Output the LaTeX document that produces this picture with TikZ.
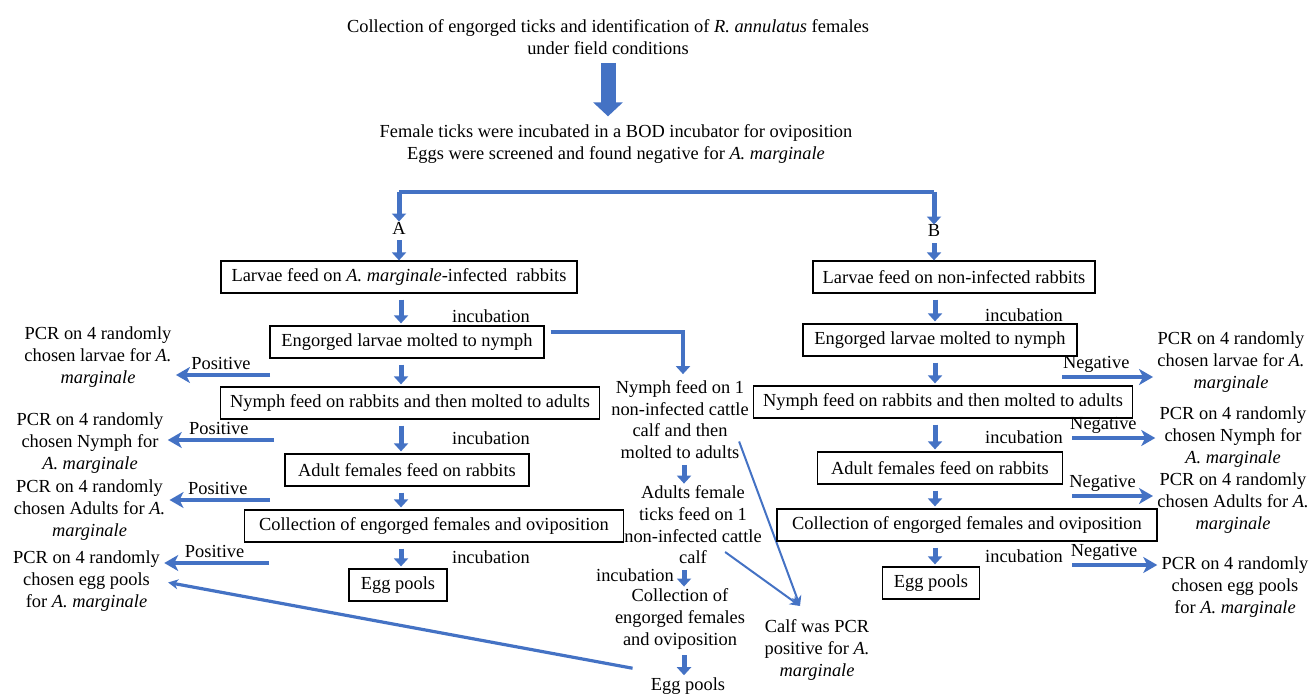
\documentclass[tikz,border=0pt]{standalone}
\usepackage{fontspec}
\setmainfont{Liberation Serif}
\usetikzlibrary{arrows.meta,positioning}
\definecolor{flowblue}{RGB}{68,114,196}

\begin{document}
\begin{tikzpicture}[x=0.5pt,y=-0.5pt]
\tikzset{
  plaintext/.style={inner sep=0pt,align=center,font=\fontsize{9.2}{10.8}\selectfont},
  stepbox/.style={draw,line width=0.6pt,minimum height=16pt,inner sep=0pt,font=\fontsize{9.2}{10.8}\selectfont},
  edgelabel/.style={inner sep=1.5pt,font=\fontsize{9.2}{10.8}\selectfont,text=black},
  bigarrow/.style={flowblue,line width=7.5pt,-{Triangle[width=14.5pt,length=7pt]},shorten <=4pt,shorten >=4pt},
  downarrow/.style={flowblue,line width=2.5pt,-{Triangle[width=7pt,length=4pt]}},
  stepdown/.style={downarrow,shorten <=3pt,shorten >=1pt},
  sidearrow/.style={flowblue,line width=2pt,-{Stealth[width=8pt,length=7pt,inset=2pt]},shorten >=2pt},
  thinarrow/.style={flowblue,line width=1pt,-{Stealth[width=5pt,length=5pt,inset=1.5pt]}},
  bracket/.style={flowblue,line width=2pt}
}
\useasboundingbox (0,0) rectangle (1309,695);

% top
\node[plaintext] (n_title) at (608,37) {Collection of engorged ticks and identification of \textit{R. annulatus} females\\under field conditions};
\node[plaintext] (n_eggs) at (616,144) {Female ticks were incubated in a BOD incubator for oviposition\\Eggs were screened and found negative for \textit{A. marginale}};
\draw[bigarrow] (n_title.south) -- (n_title.south |- n_eggs.north);

% split into A and B
\coordinate (c_splitl) at (399,192);
\coordinate (c_splitr) at (934,192);
\node[plaintext] (n_A) at (399,228) {A};
\node[plaintext] (n_B) at (934,231) {B};
\draw[bracket] (c_splitl) -- (c_splitr);
\draw[downarrow] (c_splitl) -- (n_A);
\draw[downarrow] (c_splitr) -- (n_B);

% column A
\coordinate (c_colA) at (401,0);
\node[stepbox,minimum width=178pt] (n_a1) at (399,277) {Larvae feed on \textit{A. marginale}-infected\ \ rabbits};
\node[stepbox,minimum width=137pt] (n_a2) at (407,342) {Engorged larvae molted to nymph};
\node[stepbox,minimum width=189.5pt] (n_a3) at (410,403) {Nymph feed on rabbits and then molted to adults};
\node[stepbox,minimum width=122pt] (n_a4) at (407,470) {Adult females feed on rabbits};
\node[stepbox,minimum width=189.5pt] (n_a5) at (434,526) {Collection of engorged females and oviposition};
\node[stepbox,minimum width=49pt] (n_a6) at (398,585) {Egg pools};
\draw[downarrow,shorten <=3pt] (n_A) -- (n_a1);
\draw[stepdown] (n_a1.south -| c_colA) -- (n_a2.north -| c_colA);
\draw[stepdown] (n_a2.south -| c_colA) -- (n_a3.north -| c_colA);
\draw[stepdown] (n_a3.south -| c_colA) -- (n_a4.north -| c_colA);
\draw[stepdown] (n_a4.south -| c_colA) -- (n_a5.north -| c_colA);
\draw[stepdown] (n_a5.south -| c_colA) -- (n_a6.north -| c_colA);
\node[plaintext] (n_inca1) at (491,316) {incubation};
\node[plaintext] (n_inca2) at (491,438) {incubation};
\node[plaintext] (n_inca3) at (491,557) {incubation};

% PCR on the left
\node[plaintext] (n_l1) at (98,357) {PCR on 4 randomly\\chosen larvae for \textit{A.}\\\textit{marginale}};
\node[plaintext] (n_l2) at (90,443) {PCR on 4 randomly\\chosen Nymph for\\\textit{A. marginale}};
\node[plaintext] (n_l3) at (89.5,510) {PCR on 4 randomly\\chosen Adults for \textit{A.}\\\textit{marginale}};
\node[plaintext] (n_l4) at (86.5,581) {PCR on 4 randomly\\chosen egg pools\\for \textit{A. marginale}};
\coordinate (c_pos1) at (270,375);
\coordinate (c_pos2) at (274,440);
\coordinate (c_pos3) at (270,500);
\coordinate (c_pos4) at (269,563);
\draw[sidearrow] (c_pos1) -- node[edgelabel,above] {Positive} (n_l1.east |- c_pos1);
\draw[sidearrow] (c_pos2) -- node[edgelabel,above] {Positive} (n_l2.east |- c_pos2);
\draw[sidearrow] (c_pos3) -- node[edgelabel,above] {Positive} (n_l3.east |- c_pos3);
\draw[sidearrow] (c_pos4) -- node[edgelabel,above] {Positive} (n_l4.east |- c_pos4);

% middle branch on cattle
\coordinate (c_colM) at (684,0);
\coordinate (c_elbow) at (683,332);
\node[plaintext] (n_m1) at (680,419.5) {Nymph feed on 1\\non-infected cattle\\calf and then\\molted to adults};
\node[plaintext] (n_m2) at (693,525) {Adults female\\ticks feed on 1\\non-infected cattle\\calf};
\node[plaintext] (n_m3) at (680,619) {Collection of\\engorged females\\and oviposition};
\node[plaintext] (n_m4) at (688,686) {Egg pools};
\node[plaintext] (n_incm) at (635,575) {incubation};
\node[plaintext] (n_calf) at (817,650) {Calf was PCR\\positive for \textit{A.}\\\textit{marginale}};
\coordinate (c_calfin) at (800,606);
\draw[downarrow,line width=2pt,shorten <=3pt,shorten >=3pt] (n_a2.east |- c_elbow) -- (c_elbow) -- (n_m1.north -| c_elbow);
\draw[stepdown] (n_m1.south -| c_colM) -- (n_m2.north -| c_colM);
\draw[stepdown] (n_m2.south -| c_colM) -- (n_m3.north -| c_colM);
\draw[stepdown] (n_m3.south -| c_colM) -- (n_m4.north -| c_colM);
\draw[thinarrow] ([shift={(-10,22)}]n_m1.east) -- (c_calfin);
\draw[thinarrow] ([shift={(-37,27)}]n_m2.east) -- (c_calfin);
\draw[thinarrow,line width=1.6pt,shorten >=4pt] ([shift={(-18,-9)}]n_m4.north west) -- (n_l4.east);

% column B
\coordinate (c_colB) at (935,0);
\node[stepbox,minimum width=141pt] (n_b1) at (954,277) {Larvae feed on non-infected rabbits};
\node[stepbox,minimum width=137pt] (n_b2) at (940,340) {Engorged larvae molted to nymph};
\node[stepbox,minimum width=189.5pt] (n_b3) at (943,402) {Nymph feed on rabbits and then molted to adults};
\node[stepbox,minimum width=122.5pt] (n_b4) at (940,468) {Adult females feed on rabbits};
\node[stepbox,minimum width=190pt] (n_b5) at (967,525) {Collection of engorged females and oviposition};
\node[stepbox,minimum width=48.5pt] (n_b6) at (931,583) {Egg pools};
\draw[downarrow,shorten <=3pt] (n_B) -- (n_b1.north -| n_B);
\draw[stepdown] (n_b1.south -| c_colB) -- (n_b2.north -| c_colB);
\draw[stepdown] (n_b2.south -| c_colB) -- (n_b3.north -| c_colB);
\draw[stepdown] (n_b3.south -| c_colB) -- (n_b4.north -| c_colB);
\draw[stepdown] (n_b4.south -| c_colB) -- (n_b5.north -| c_colB);
\draw[stepdown] (n_b5.south -| c_colB) -- (n_b6.north -| c_colB);
\node[plaintext] (n_incb1) at (1024,315) {incubation};
\node[plaintext] (n_incb2) at (1024,437) {incubation};
\node[plaintext] (n_incb3) at (1024,556) {incubation};

% PCR on the right
\node[plaintext] (n_r1) at (1231,362) {PCR on 4 randomly\\chosen larvae for \textit{A.}\\\textit{marginale}};
\node[plaintext] (n_r2) at (1233,437) {PCR on 4 randomly\\chosen Nymph for\\\textit{A. marginale}};
\node[plaintext] (n_r3) at (1233,503) {PCR on 4 randomly\\chosen Adults for \textit{A.}\\\textit{marginale}};
\node[plaintext] (n_r4) at (1235,587) {PCR on 4 randomly\\chosen egg pools\\for \textit{A. marginale}};
\coordinate (c_neg1) at (1062,377);
\coordinate (c_neg2) at (1072,438);
\coordinate (c_neg3) at (1072,496);
\coordinate (c_neg4) at (1072,565);
\draw[sidearrow] (c_neg1) -- node[edgelabel,above,pos=0.36] {Negative} (n_r1.west |- c_neg1);
\draw[sidearrow] (c_neg2) -- node[edgelabel,above,pos=0.36] {Negative} (n_r2.west |- c_neg2);
\draw[sidearrow] (c_neg3) -- node[edgelabel,above,pos=0.36] {Negative} (n_r3.west |- c_neg3);
\draw[sidearrow] (c_neg4) -- node[edgelabel,above,pos=0.36] {Negative} (n_r4.west |- c_neg4);
\end{tikzpicture}
\end{document}
